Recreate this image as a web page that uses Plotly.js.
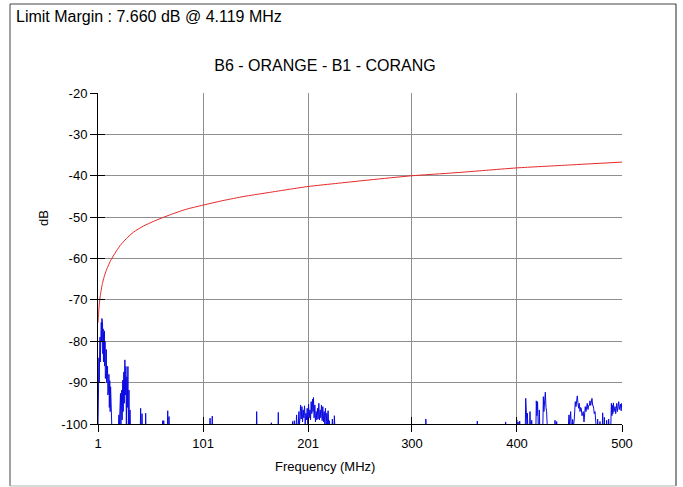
<!DOCTYPE html>
<html>
<head>
<meta charset="utf-8">
<script src="https://cdn.plot.ly/plotly-3.0.1.min.js"></script>
<style>
html,body{margin:0;padding:0;background:#fff;}
#chart{width:683px;height:487px;}
</style>
</head>
<body>
<div id="chart"></div>
<script>
// ---- Data ----
var headerText = "Limit Margin : 7.660 dB @ 4.119 MHz";
var chartTitle = "B6 - ORANGE - B1 - CORANG";
var xAxisTitle = "Frequency (MHz)";
var yAxisTitle = "dB";

var xTickVals = [1, 101, 201, 300, 400, 500];
var xTickText = ["1", "101", "201", "300", "400", "500"];
var yTickVals = [-20, -30, -40, -50, -60, -70, -80, -90, -100];
var yTickText = ["-20", "-30", "-40", "-50", "-60", "-70", "-80", "-90", "-100"];

// Limit line (red)
var limitFreq = [1, 1.5, 2, 3, 4, 5, 6, 8, 10, 13, 17, 22, 28, 35, 44, 55, 70, 85, 101, 120, 140, 160, 180, 201, 230, 260, 300, 340, 370, 400, 450, 500];
var limitDb   = [-75.5, -73.5, -71.8, -69.3, -67.7, -66.3, -65.2, -63.5, -62.2, -60.5, -58.8, -56.9, -55.2, -53.6, -52.2, -50.9, -49.4, -48.1, -47.1, -46.0, -45.0, -44.2, -43.4, -42.6, -41.8, -41.0, -40.0, -39.3, -38.7, -38.1, -37.4, -36.7];

// Measured emission (blue)
var measFreq = [
 1.0, 1.2, 1.35, 1.5, 1.7, 1.9, 2.1, 2.3, 2.6, 2.9, 3.2, 3.5, 3.8, 4.119, 4.4, 4.7, 5.0, 5.3, 5.6, 5.9,
 6.2, 6.5, 6.8, 7.1, 7.4, 7.7, 8.0, 8.3, 8.6, 8.9, 9.2, 9.5, 9.8, 10.1, 10.4, 10.7, 11.0, 11.4, 11.8, 12.2,
 12.6, 13.0, 13.4, 13.8, 14.2,
 20.5, 20.9, 21.3, 22.4, 22.8, 23.6, 24.0, 24.6, 25.0, 25.6, 26.0, 26.6, 27.0, 27.6, 28.0, 28.5, 28.9, 29.5, 29.9, 30.5,
 30.9, 31.5, 31.9,
 41.3, 41.6, 41.9, 42.7, 42.9, 43.2, 46.1, 46.4, 46.7, 62.3, 62.6, 62.9, 63.4, 63.6, 63.9, 67.1, 67.4, 67.7, 68.3, 68.6, 68.9,
 107.4, 107.7, 108.0, 109.5, 109.8, 110.1, 151.8, 152.1, 152.4, 165.8, 166.1, 166.4, 172.4, 172.7, 173.0,
 185.8, 186.3, 186.8, 187.6, 187.9, 188.4, 189.6, 190.1, 190.6, 191.8, 192.3, 192.8, 193.4, 193.9, 194.5, 195.2, 195.8, 196.4, 197.0, 197.7,
 198.3, 199.0, 199.6, 200.2, 200.8, 201.5, 202.1, 202.8, 203.4, 204.0, 204.6, 205.3, 205.8, 206.2, 206.8, 207.5, 208.1, 208.8, 209.4, 210.0,
 210.6, 211.3, 211.9, 212.6, 213.2, 213.8, 214.5, 215.1, 215.8, 216.4, 217.0, 217.6, 218.3, 218.9, 219.5, 220.1, 220.8, 221.4, 221.9, 223.8,
 224.2, 224.6, 225.7, 226.1, 226.6,
 313.0, 313.2, 313.5, 362.0, 362.2, 362.5, 389.0, 389.2, 389.5,
 399.5, 399.8, 400.3, 401.0, 401.5, 402.6, 403.0, 407.9, 408.3, 408.8, 409.6, 409.9, 410.3, 412.0, 412.4, 412.8, 413.8, 414.0, 414.3,
 418.0, 418.4, 419.0, 419.6, 420.3, 421.0, 421.3, 421.7, 424.6, 425.1, 425.6, 426.3, 427.0, 427.6, 428.2, 428.9,
 436.0, 436.2, 436.5, 437.6, 437.8, 438.1,
 448.8, 449.5, 450.2, 451.1, 451.8, 452.7, 453.0, 453.5, 454.5, 455.0, 455.5, 456.2, 456.8, 457.4, 458.0, 458.7, 459.3, 460.0, 460.6, 461.2,
 461.9, 462.5, 463.1, 463.8, 464.4, 465.0, 465.7, 466.3, 466.9, 467.6, 468.2, 469.0, 469.5, 470.2, 470.8, 471.4, 472.0, 472.5, 473.0, 473.6,
 474.3, 474.9, 475.5, 476.5, 476.8, 477.2, 478.8, 479.0, 479.3, 481.2, 481.6, 482.0, 483.0, 483.2, 483.5, 485.2, 485.4, 485.7, 487.0, 487.3,
 487.7, 489.3, 489.9, 490.4, 490.9, 491.3, 491.8, 492.4, 493.0, 493.4, 494.0, 494.5, 495.0, 495.6, 496.2, 496.9, 497.5, 498.0, 498.5, 499.2,
 499.8, 500.0
];
var measDb = [
 -101, -92, -86, -96, -88, -84, -90, -80, -87, -79, -85, -76.5, -81, -75.4, -80, -74.5, -79, -75.5, -83, -77,
 -85, -78, -84, -77.5, -86, -80, -89, -80.5, -87, -82, -90, -82.5, -88, -86, -93, -86.5, -92, -88, -96, -89.5,
 -97, -91, -99, -95.5, -101,
 -101, -97.8, -101, -92.6, -101, -91.8, -99, -89.4, -97, -87.4, -95, -84.5, -93, -86.1, -101, -88.6, -96, -86.1, -101, -91.8,
 -101, -96.6, -101,
 -101, -96.2, -101, -101, -97.5, -101, -101, -97.4, -101, -101, -99.2, -101, -101, -99.2, -101, -101, -96.8, -101, -101, -98.2, -101,
 -101, -98.6, -101, -101, -98.1, -101, -101, -97.0, -101, -101, -99.7, -101, -101, -97.2, -101,
 -101, -99.4, -101, -101, -99.2, -100.5, -101, -97.8, -101, -100, -97.0, -100.2, -98.5, -95.4, -98.8, -95.8, -99.5, -96.6, -98.5, -95.6,
 -100, -97.4, -99, -96.2, -100.5, -95.2, -98.5, -96.6, -99, -94.6, -97.5, -94.0, -97, -93.6, -98.5, -95.4, -99.5, -97.0, -99, -96.2,
 -98.8, -95.0, -99, -96.6, -98.5, -95.4, -99.2, -95.8, -99.5, -97.0, -100, -96.2, -100, -97.4, -100.5, -96.8, -101, -99.2, -101, -101,
 -98.8, -101, -101, -98.0, -101,
 -101, -98.8, -101, -101, -99.3, -101, -101, -99.5, -101,
 -101, -99, -101, -99.5, -101, -99.3, -101, -101, -93.8, -101, -101, -97.4, -101, -101, -97, -101, -101, -99.1, -101,
 -101, -94.4, -98, -94.6, -101, -101, -96.6, -101, -101, -93.4, -97, -94, -92.3, -96, -97, -101,
 -101, -99.1, -101, -101, -99.4, -101,
 -101, -97.8, -100, -97.0, -101, -100.5, -98.9, -101, -99, -96, -94.6, -95.8, -94.2, -93.2, -94.8, -96.2, -95.0, -97, -96.0, -96.2,
 -98, -97.5, -97.0, -99.5, -97.5, -95.8, -97, -96, -95.0, -96.5, -95.5, -95.5, -94.4, -95.5, -94.5, -93.8, -95.5, -95.5, -96.2, -97.5,
 -97, -98.4, -101, -101, -98.8, -101, -101, -99.4, -101, -101, -97.3, -101, -101, -98.4, -101, -101, -99.1, -101, -101, -98.8,
 -101, -101, -95.0, -98, -95.5, -97.5, -94.9, -97, -96, -95.8, -97.5, -96.2, -95.0, -97, -96, -94.6, -96.5, -95.8, -95.2, -96.8,
 -95.0, -96
];

// ---- Layout helpers (pixel -> paper) ----
var W = 683, H = 487;
var L = 98, R = 622, T = 93, B = 424;
function px(x){ return (x - L) / (R - L); }
function py(y){ return (B - y) / (B - T); }

var fontFam = "Liberation Sans, Arial, Helvetica, sans-serif";
var gridCol = "#8f8f8f";

var traces = [
  {
    x: measFreq, y: measDb, type: "scatter", mode: "lines",
    line: {color: "rgb(10,10,225)", width: 1},
    xaxis: "x", yaxis: "y", hoverinfo: "skip", showlegend: false
  },
  {
    x: limitFreq, y: limitDb, type: "scatter", mode: "lines",
    line: {color: "rgb(230,40,40)", width: 1, shape: "spline", smoothing: 0.6},
    xaxis: "x2", yaxis: "y2", hoverinfo: "skip", showlegend: false
  }
];

var axisCommon = {
  showgrid: true, gridcolor: gridCol, gridwidth: 1,
  showline: true, linecolor: "#000", linewidth: 1,
  ticks: "outside", ticklen: 7, tickcolor: "#000", tickwidth: 1,
  zeroline: false, tickfont: {family: fontFam, size: 13, color: "#000"},
  tickmode: "array", fixedrange: true
};

var layout = {
  width: W, height: H,
  margin: {l: L, r: W - R, t: T, b: H - B, pad: 0},
  paper_bgcolor: "#fff", plot_bgcolor: "#fff",
  showlegend: false,
  font: {family: fontFam, color: "#000"},
  title: {
    text: chartTitle, font: {family: fontFam, size: 16, color: "#000"},
    xref: "paper", x: px(325), xanchor: "center",
    yref: "container", y: 1 - 65 / H, yanchor: "middle"
  },
  xaxis: Object.assign({}, axisCommon, {
    range: [1, 500], tickvals: xTickVals, ticktext: xTickText
  }),
  yaxis: Object.assign({}, axisCommon, {
    range: [-100, -20], tickvals: yTickVals, ticktext: yTickText
  }),
  xaxis2: {
    overlaying: "x", matches: "x", anchor: "y2", side: "bottom",
    showgrid: false, showline: false, zeroline: false,
    ticks: "inside", ticklen: 7, tickcolor: "#000", showticklabels: false,
    tickmode: "array", tickvals: xTickVals, fixedrange: true
  },
  yaxis2: {
    overlaying: "y", matches: "y", anchor: "x2", side: "left",
    showgrid: false, showline: false, zeroline: false,
    ticks: "inside", ticklen: 7, tickcolor: "#000", showticklabels: false,
    tickmode: "array", tickvals: yTickVals, fixedrange: true
  },
  annotations: [
    {text: headerText, xref: "paper", yref: "paper", x: px(14), y: py(17),
     xanchor: "left", yanchor: "middle", showarrow: false,
     font: {family: fontFam, size: 16, color: "#000"}},
    {text: xAxisTitle, xref: "paper", yref: "paper", x: px(325), y: py(466),
     xanchor: "center", yanchor: "middle", showarrow: false,
     font: {family: fontFam, size: 13, color: "#000"}},
    {text: yAxisTitle, xref: "paper", yref: "paper", x: px(43), y: py(218),
     xanchor: "center", yanchor: "middle", showarrow: false, textangle: -90,
     font: {family: fontFam, size: 13, color: "#000"}}
  ],
  shapes: [
    {type: "line", xref: "paper", yref: "paper", x0: px(10), x1: px(10), y0: py(4), y1: py(486), line: {color: "#444", width: 1}},
    {type: "line", xref: "paper", yref: "paper", x0: px(10), x1: px(676), y0: py(4), y1: py(4), line: {color: "#444", width: 1}},
    {type: "line", xref: "paper", yref: "paper", x0: px(676), x1: px(676), y0: py(4), y1: py(486), line: {color: "#222", width: 1}},
    {type: "line", xref: "paper", yref: "paper", x0: px(10), x1: px(676), y0: py(486), y1: py(486), line: {color: "#b5b5b5", width: 1}}
  ]
};

Plotly.newPlot("chart", traces, layout, {staticPlot: true, displayModeBar: false});
</script>
</body>
</html>
